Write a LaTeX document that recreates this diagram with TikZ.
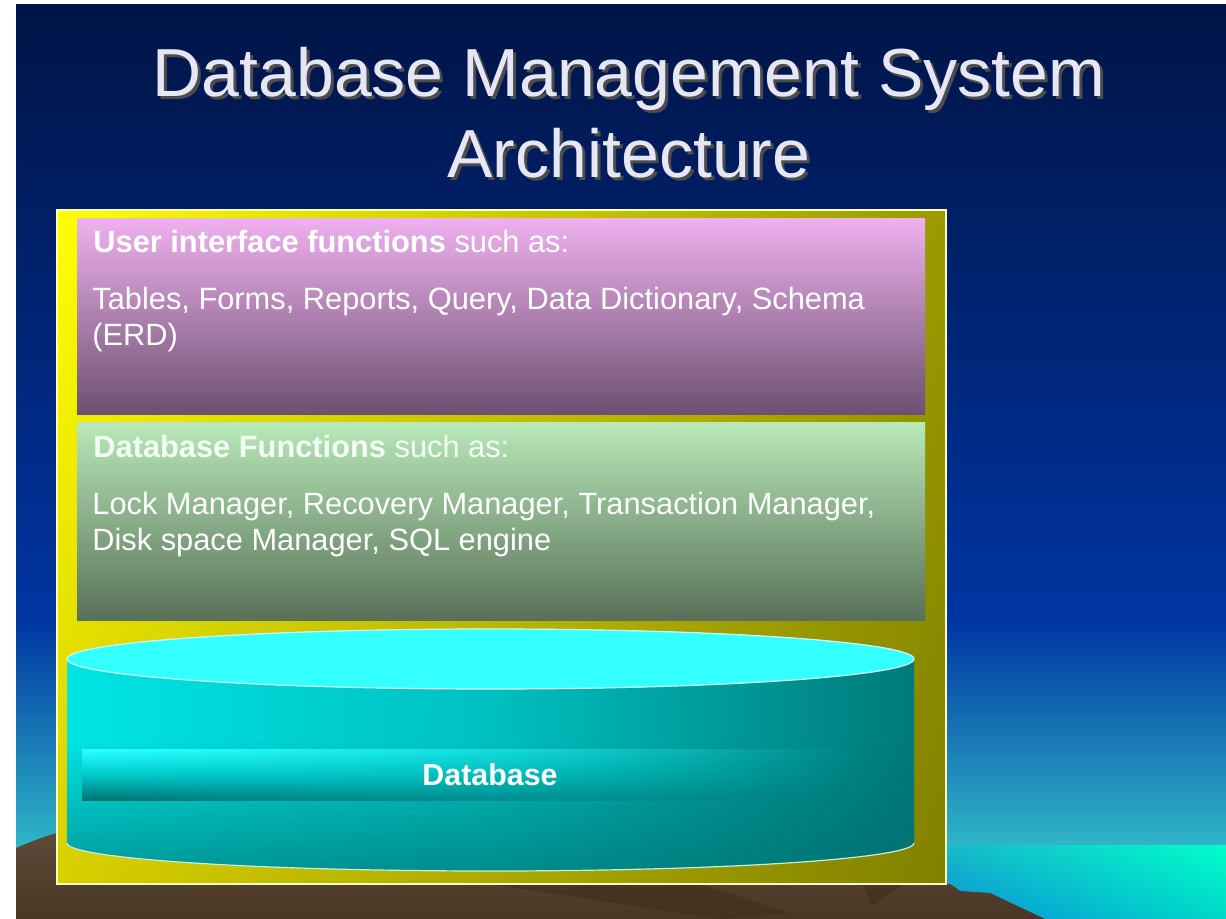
\documentclass[tikz,border=0pt]{standalone}
\usepackage{fontspec}
\setmainfont{Liberation Sans}
\usepackage{xcolor}
\usetikzlibrary{fadings,shadings}
\definecolor{skytop}{HTML}{001446}
\definecolor{skymid}{HTML}{002A84}
\definecolor{skyblue}{HTML}{0035A2}
\definecolor{skylow}{HTML}{30B8C8}
\definecolor{seaul}{HTML}{18B8C8}
\definecolor{seaur}{HTML}{00FFCC}
\definecolor{seall}{HTML}{0890D8}
\definecolor{sealr}{HTML}{00D8C8}
\definecolor{earthtop}{HTML}{5E4A3A}
\definecolor{earthlow}{HTML}{4A3624}
\definecolor{earthdark}{HTML}{3E2C1C}
\definecolor{titlecol}{HTML}{E6E6F5}
\definecolor{frameul}{HTML}{FFFF00}
\definecolor{frameur}{HTML}{9A9A00}
\definecolor{framell}{HTML}{D8D000}
\definecolor{framelr}{HTML}{808000}
\definecolor{frameedge}{HTML}{FFFFC0}
\definecolor{uitop}{HTML}{EEB0EE}
\definecolor{uilow}{HTML}{6C5070}
\definecolor{dbtop}{HTML}{B8E8B8}
\definecolor{dblow}{HTML}{587058}
\definecolor{dbtext}{HTML}{F4FFF4}
\definecolor{cyltop}{HTML}{33FFFF}
\definecolor{cyledge}{HTML}{D0FFFF}
\definecolor{cylrim}{HTML}{C0F0E0}
\definecolor{cylleft}{HTML}{00E4E4}
\definecolor{cylmid}{HTML}{00C0C0}
\definecolor{cylright}{HTML}{007A7A}
\definecolor{cyldeep}{HTML}{006A6A}
\definecolor{bandtop}{HTML}{2AFFFF}
\definecolor{bandmid}{HTML}{00C8C8}
\definecolor{bandlow}{HTML}{007272}

\begin{document}
\begin{tikzpicture}[x=0.5pt, y=-0.5pt,
  titletext/.style={inner sep=0pt, anchor=base, text=titlecol, font=\fontsize{34}{40}\selectfont},
  titleshade/.style={titletext, text=black!70},
  slidetext/.style={inner sep=0pt, anchor=base west, text=white, font=\fontsize{15.4}{18}\selectfont}
]
  \useasboundingbox (0,0) rectangle (1226,919);
  \fill[white] (0,0) rectangle (1226,919);

  % Sky
  \shade[top color=skytop, bottom color=skymid] (16,5) rectangle (1226,421);
  \shade[top color=skymid, bottom color=skyblue] (16,420) rectangle (1226,621);
  \shade[top color=skyblue, bottom color=skylow] (16,620) rectangle (1226,850);

  % Sea
  \shade[upper left=seaul, upper right=seaur, lower left=seall, lower right=sealr]
    (940,845) rectangle (1226,919);

  % Land
  \shade[top color=earthtop, bottom color=earthlow]
    (16,848) .. controls (30,842) and (45,836) .. (60,832) -- (946,832) -- (946,883)
    -- (952,885) -- (960,891) -- (990,893) -- (1045,919) -- (16,919) -- cycle;
  \fill[earthdark, opacity=0.5] (490,884) -- (700,884) -- (790,913) -- (720,919) -- cycle;
  \fill[earthdark, opacity=0.5] (862,884) -- (905,884) -- (872,906) -- cycle;

  % Title
  \node[titleshade] (title1s) at (632,100) {Database Management System};
  \node[titletext]  (title1)  at (629,97)  {Database Management System};
  \node[titleshade] (title2s) at (632,181) {Architecture};
  \node[titletext]  (title2)  at (629,178) {Architecture};

  % Frame
  \shade[upper left=frameul, upper right=frameur, lower left=framell, lower right=framelr]
    (57,210) rectangle (946,884);
  \draw[frameedge, line width=0.6pt] (57,210) rectangle (946,884);

  % User interface layer
  \shade[top color=uitop, bottom color=uilow] (77,219) rectangle (925,415);
  \node[slidetext] (uihead) at (93,253) {\textbf{User interface functions} such as:};
  \node[slidetext] (uilist) at (92,310) {Tables, Forms, Reports, Query, Data Dictionary, Schema};
  \node[slidetext] (uilistb) at (92,346) {(ERD)};

  % Database functions layer
  \shade[top color=dbtop, bottom color=dblow] (77,423) rectangle (925,620);
  \node[slidetext, text=dbtext] (dbhead) at (93,458) {\textbf{Database Functions} such as:};
  \node[slidetext] (dblist) at (92,514) {Lock Manager, Recovery Manager, Transaction Manager,};
  \node[slidetext] (dblistb) at (92,550) {Disk space Manager, SQL engine};

  % Database cylinder
  \shade[left color=cylleft, right color=cylright, middle color=cylmid]
    (67,659) -- (67,843) .. controls (67,858.5) and (256.6,871) .. (490.5,871)
    .. controls (724.4,871) and (914,858.5) .. (914,843) -- (914,659)
    .. controls (914,675.6) and (724.4,689) .. (490.5,689)
    .. controls (256.6,689) and (67,675.6) .. (67,659) -- cycle;
  \fill[cyldeep, opacity=0.6, path fading=north]
    (67,740) -- (67,843) .. controls (67,858.5) and (256.6,871) .. (490.5,871)
    .. controls (724.4,871) and (914,858.5) .. (914,843) -- (914,740) -- cycle;
  \draw[cylrim, line width=0.6pt]
    (67,843) .. controls (67,858.5) and (256.6,871) .. (490.5,871)
    .. controls (724.4,871) and (914,858.5) .. (914,843);
  \fill[cyltop] (490.5,659) ellipse [x radius=211.75pt, y radius=15pt];
  \draw[cyledge, line width=0.6pt] (490.5,659) ellipse [x radius=211.75pt, y radius=15pt];

  % Database band
  \shade[top color=bandtop, bottom color=bandlow, middle color=bandmid, path fading=east]
    (82,750) rectangle (860,800);
  \node[slidetext, anchor=base, font=\fontsize{15.2}{18}\selectfont\bfseries] (dblabel) at (490,785) {Database};
\end{tikzpicture}
\end{document}
